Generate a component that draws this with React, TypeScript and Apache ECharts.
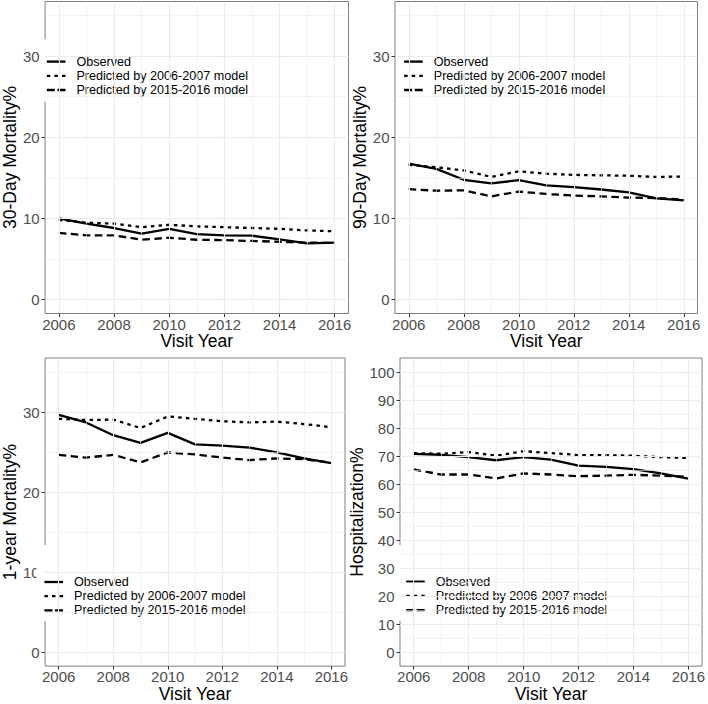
import React, { useEffect, useRef } from "react";
import * as echarts from "echarts";

// ---------- data ----------
const years = [2006, 2007, 2008, 2009, 2010, 2011, 2012, 2013, 2014, 2015, 2016];
const seriesNames = ["Observed", "Predicted by 2006-2007 model", "Predicted by 2015-2016 model"];
const xTickLabels = [2006, 2008, 2010, 2012, 2014, 2016];
const xMinorYears = [2007, 2009, 2011, 2013, 2015];

const mortalityTicks = [0, 10, 20, 30];
const mortalityMinor = [5, 15, 25, 35];
const hospTicks = [0, 10, 20, 30, 40, 50, 60, 70, 80, 90, 100];
const hospMinor = [5, 15, 25, 35, 45, 55, 65, 75, 85, 95];

const observed30 = [10.0, 9.35, 8.8, 8.1, 8.7, 8.05, 7.9, 7.85, 7.4, 6.9, 7.0];
const pred0607_30 = [9.8, 9.45, 9.35, 8.9, 9.2, 9.0, 8.9, 8.8, 8.7, 8.5, 8.4];
const pred1516_30 = [8.2, 7.9, 7.9, 7.35, 7.6, 7.35, 7.3, 7.2, 7.1, 7.0, 6.95];

const observed90 = [16.75, 16.1, 14.75, 14.3, 14.7, 14.05, 13.85, 13.55, 13.2, 12.45, 12.2];
const pred0607_90 = [16.6, 16.3, 15.9, 15.1, 15.8, 15.5, 15.35, 15.3, 15.25, 15.1, 15.15];
const pred1516_90 = [13.6, 13.4, 13.45, 12.7, 13.3, 13.0, 12.8, 12.7, 12.55, 12.5, 12.3];

const observed1y = [29.65, 28.7, 27.1, 26.15, 27.4, 25.95, 25.8, 25.55, 24.95, 24.2, 23.6];
const pred0607_1y = [29.15, 29.0, 29.05, 28.0, 29.45, 29.15, 28.85, 28.7, 28.8, 28.5, 28.1];
const pred1516_1y = [24.65, 24.3, 24.65, 23.7, 24.95, 24.7, 24.3, 24.0, 24.2, 24.1, 23.65];

const observedHosp = [70.8, 70.45, 69.6, 68.5, 69.6, 68.7, 66.6, 66.1, 65.3, 63.8, 61.9];
const pred0607_Hosp = [71.05, 70.8, 71.4, 70.1, 71.75, 71.05, 70.35, 70.3, 70.1, 69.6, 69.3];
const pred1516_Hosp = [65.2, 63.4, 63.4, 62.0, 63.8, 63.4, 62.8, 63.0, 63.3, 63.0, 62.6];

// ---------- layout / style ----------
const FONT = "'Liberation Sans', Arial, Helvetica, sans-serif";
const lineTypes: any[] = ["solid", [3.5, 4.2], [7.5, 4.5]];
const legendLineTypes: any[] = ["solid", [3.5, 4.05], [8, 2.6]];

const panels = [
  {
    yName: "30-Day Mortality%",
    values: [observed30, pred0607_30, pred1516_30],
    yTicks: mortalityTicks, yMinor: mortalityMinor, yMin: -1.75, yMax: 36.75,
    grid: { left: 38, top: 1.5, width: 310.5, height: 312 },
    yNameGap: 21.5,
    legend: { left: 39.5, top: 39.3, padding: [15.2, 7.7, 4.4, 6.2] },
  },
  {
    yName: "90-Day Mortality%",
    values: [observed90, pred0607_90, pred1516_90],
    yTicks: mortalityTicks, yMinor: mortalityMinor, yMin: -1.75, yMax: 36.75,
    grid: { left: 395, top: 1.5, width: 302.5, height: 312 },
    yNameGap: 22,
    legend: { left: 396, top: 39.5, padding: [15, 7.7, 4, 7] },
  },
  {
    yName: "1-year Mortality%",
    values: [observed1y, pred0607_1y, pred1516_1y],
    yTicks: mortalityTicks, yMinor: mortalityMinor, yMin: -1.75, yMax: 36.75,
    grid: { left: 38, top: 358, width: 307, height: 313 },
    yNameGap: 22,
    legend: { left: 36.5, top: 545, padding: [29.9, 8, 3.5, 6.8] },
  },
  {
    yName: "Hospitalization%",
    values: [observedHosp, pred0607_Hosp, pred1516_Hosp],
    yTicks: hospTicks, yMinor: hospMinor, yMin: -5, yMax: 105,
    grid: { left: 400, top: 358, width: 305.5, height: 313 },
    yNameGap: 29,
    legend: { left: 396, top: 545, padding: [29.6, 7.4, 3.5, 9] },
  },
];

function buildOption() {
  const grid: any[] = [];
  const xAxis: any[] = [];
  const yAxis: any[] = [];
  const series: any[] = [];
  const legend: any[] = [];

  panels.forEach((p, i) => {
    grid.push({
      ...p.grid,
      show: true,
      borderColor: "#7f7f7f",
      borderWidth: 1,
      backgroundColor: "#ffffff",
      containLabel: false,
    });
    xAxis.push({
      gridIndex: i,
      type: "value",
      min: 2005.5,
      max: 2016.5,
      axisLine: { show: false, onZero: false },
      splitLine: { show: false },
      axisTick: { show: true, customValues: xTickLabels, length: 3.5, lineStyle: { color: "#333333", width: 1 } },
      axisLabel: {
        customValues: xTickLabels,
        fontSize: 15,
        color: "#4d4d4d",
        margin: 3,
        fontFamily: FONT,
        formatter: (v: number) => String(v),
      },
      name: "Visit Year",
      nameLocation: "middle",
      nameGap: 16,
      nameTextStyle: { fontSize: 17.5, color: "#000000", fontFamily: FONT },
    });
    yAxis.push({
      gridIndex: i,
      type: "value",
      min: p.yMin,
      max: p.yMax,
      axisLine: { show: false, onZero: false },
      splitLine: { show: false },
      axisTick: { show: true, customValues: p.yTicks, length: 3.5, lineStyle: { color: "#333333", width: 1 } },
      axisLabel: {
        customValues: p.yTicks,
        fontSize: 15,
        color: "#4d4d4d",
        margin: 5.5,
        fontFamily: FONT,
      },
      name: p.yName,
      nameLocation: "middle",
      nameGap: p.yNameGap,
      nameTextStyle: { fontSize: 17.5, color: "#000000", fontFamily: FONT },
    });

    // gridlines (drawn behind the data through the axes' own scales)
    const gridLineData: any[] = [
      ...xTickLabels.map((v) => ({ xAxis: v, lineStyle: { width: 1.1 } })),
      ...xMinorYears.map((v) => ({ xAxis: v, lineStyle: { width: 0.6 } })),
      ...p.yTicks.map((v) => ({ yAxis: v, lineStyle: { width: 1.1 } })),
      ...p.yMinor.map((v) => ({ yAxis: v, lineStyle: { width: 0.6 } })),
    ];
    series.push({
      type: "line",
      name: "__grid" + i,
      xAxisIndex: i,
      yAxisIndex: i,
      data: years.map((y, k) => [y, p.values[0][k]]),
      symbol: "none",
      lineStyle: { opacity: 0, width: 0 },
      silent: true,
      z: 1,
      markLine: {
        silent: true,
        symbol: ["none", "none"],
        label: { show: false },
        lineStyle: { color: "#ebebeb", type: "solid" },
        emphasis: { disabled: true },
        animation: false,
        data: gridLineData,
      },
    });

    seriesNames.forEach((name, s) => {
      series.push({
        type: "line",
        name,
        xAxisIndex: i,
        yAxisIndex: i,
        data: years.map((y, k) => [y, p.values[s][k]]),
        symbol: "none",
        showSymbol: false,
        z: 3,
        lineStyle: { color: "#000000", width: 2.3, type: lineTypes[s], cap: "butt", join: "round" },
        itemStyle: { color: "#000000" },
        emphasis: { disabled: true },
      });
    });

    legend.push({
      data: seriesNames.map((name, s) => ({
        name,
        lineStyle: { type: legendLineTypes[s], width: 2.3, color: "#000000", cap: "butt" },
      })),
      orient: "vertical",
      left: p.legend.left,
      top: p.legend.top,
      padding: p.legend.padding,
      itemWidth: 18.6,
      itemHeight: 14.2,
      itemGap: 0,
      backgroundColor: "#ffffff",
      selectedMode: false,
      z: 5,
      itemStyle: { opacity: 0 },
      textStyle: { fontSize: 12.6, lineHeight: 14.2, color: "#000000", fontFamily: FONT, padding: [0, 0, 0, 6] },
    });
  });

  return {
    animation: false,
    backgroundColor: "#ffffff",
    grid,
    xAxis,
    yAxis,
    series,
    legend,
  };
}

export default function App() {
  const ref = useRef<HTMLDivElement>(null);
  useEffect(() => {
    if (!ref.current) return;
    const chart = echarts.init(ref.current, undefined, { renderer: "svg" });
    chart.setOption(buildOption() as any);
    return () => chart.dispose();
  }, []);
  return (
    <div
      ref={ref}
      style={{ position: "absolute", left: 0, top: 0, width: 708, height: 704, background: "#fff" }}
    />
  );
}
